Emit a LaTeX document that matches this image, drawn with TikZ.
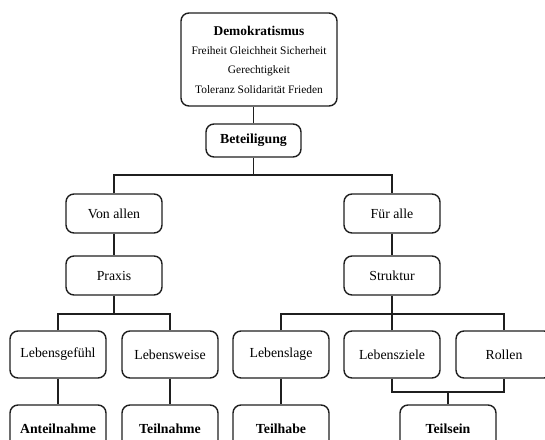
\documentclass[tikz,border=0pt]{standalone}
\usepackage{fontspec}
\setmainfont{Liberation Serif}
\begin{document}
\begin{tikzpicture}[x=1pt,y=-1pt,
  box/.style={draw=black!88, line width=1.4pt, rounded corners=8pt, inner sep=0pt,
    minimum width=96pt, font=\fontsize{13.8}{16}\selectfont},
  rowa/.style={box, minimum height=39pt},
  rowb/.style={box, minimum height=47pt},
  bold/.style={font=\fontsize{13.8}{16}\selectfont\bfseries},
  conn/.style={draw=black!88, line width=1.4pt}]
\useasboundingbox (0,0) rectangle (545,439);
\clip (0,0) rectangle (545,439);
\fill[white] (0,0) rectangle (545,439);
% top
\node[box, minimum width=156pt, minimum height=93pt, align=center,
  font=\fontsize{11.4}{19.3}\selectfont] (demo) at (259,59.5)
  {{\fontsize{13.4}{19.3}\selectfont\bfseries Demokratismus}\\Freiheit Gleichheit Sicherheit\\Gerechtigkeit\\Toleranz Solidarität Frieden};
\node[box, bold, minimum width=95pt, minimum height=33pt] (bet) at (253.5,140.5) {Beteiligung};
% second level
\node[rowa] (von) at (114,213.5) {Von allen};
\node[rowa] (fur) at (392,213.5) {Für alle};
\node[rowa] (praxis) at (114,275.5) {Praxis};
\node[rowa] (struktur) at (392,275.5) {Struktur};
% third level
\node[rowb] (gefuehl) at (58,354.5) {Lebensgefühl};
\node[rowb] (weise) at (170,354.5) {Lebensweise};
\node[rowb] (lage) at (281,354.5) {Lebenslage};
\node[rowb] (ziele) at (392,354.5) {Lebensziele};
\node[rowb] (rollen) at (504,354.5) {Rollen};
% fourth level
\node[rowb, bold] (anteil) at (58,428.5) {Anteilnahme};
\node[rowb, bold] (teilnahme) at (170,428.5) {Teilnahme};
\node[rowb, bold] (teilhabe) at (281,428.5) {Teilhabe};
\node[rowb, bold] (teilsein) at (448,428.5) {Teilsein};
% junctions
\coordinate (j1) at (253.5,175);
\coordinate (j2) at (114,314);
\coordinate (j3) at (392,314);
\coordinate (j4) at (448,392);
% connectors
\draw[conn] (bet.north) -- (bet.north |- demo.south);
\draw[conn] (bet.south) -- (j1);
\draw[conn] (von.north) |- (j1) -| (fur.north);
\draw[conn] (von.south) -- (praxis.north);
\draw[conn] (fur.south) -- (struktur.north);
\draw[conn] (praxis.south) -- (j2);
\draw[conn] (gefuehl.north) |- (j2) -| (weise.north);
\draw[conn] (struktur.south) -- (j3);
\draw[conn] (lage.north) |- (j3) -| (rollen.north);
\draw[conn] (ziele.north) -- (ziele.north |- j3);
\draw[conn] (gefuehl.south) -- (anteil.north);
\draw[conn] (weise.south) -- (teilnahme.north);
\draw[conn] (lage.south) -- (teilhabe.north);
\draw[conn] (ziele.south) |- (j4) -| (rollen.south);
\draw[conn] (teilsein.north) -- (j4);
\end{tikzpicture}
\end{document}
